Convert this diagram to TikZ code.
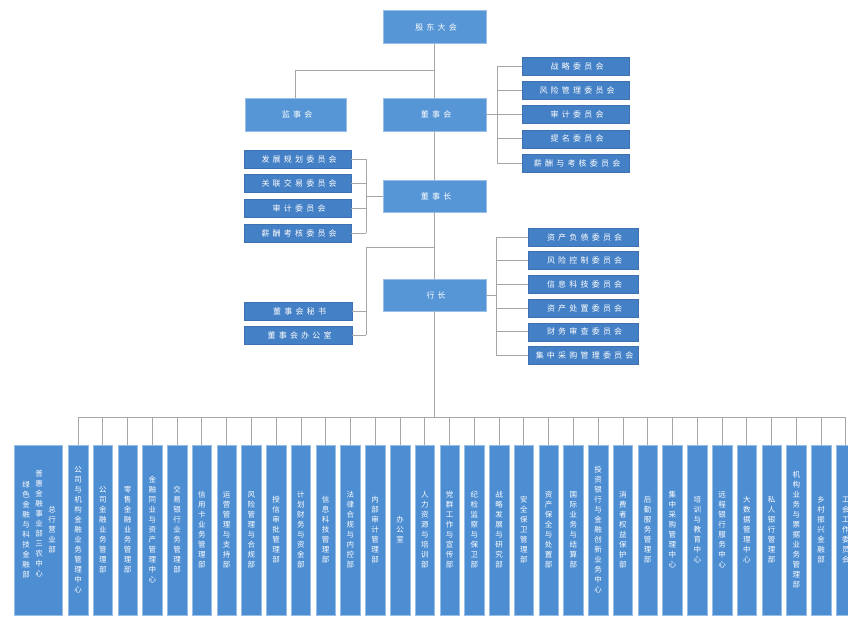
\documentclass[tikz,border=0pt]{standalone}
\usepackage{fontspec}
\newfontfamily\cjk{Noto Sans CJK SC}
\newfontfamily\cjkls{Noto Sans CJK SC}[LetterSpace=40]
\definecolor{boxblue}{RGB}{77,141,210}
\definecolor{bigblue}{RGB}{86,150,214}
\definecolor{smallblue}{RGB}{68,128,198}
\definecolor{boxedge}{RGB}{150,190,230}
\definecolor{smalledge}{RGB}{62,112,178}
\definecolor{linegray}{RGB}{166,166,166}
\makeatletter
\def\vstack#1{\vstack@start#1\relax}
\def\vstack@start#1{#1\vstack@aux}
\def\vstack@aux#1{\ifx#1\relax\expandafter\@gobble\else\expandafter\@firstofone\fi{\\#1\vstack@aux}}
\makeatother
\tikzset{
  hbox/.style={draw=boxedge, line width=0.5pt, fill=boxblue, text=white, inner sep=0pt,
    font=\cjkls\fontsize{8}{10}\selectfont, execute at end node={\kern-3.2pt}},
  bigbox/.style={hbox, fill=bigblue, minimum width=103pt, minimum height=33pt},
  smallbox/.style={hbox, fill=smallblue, draw=smalledge, minimum height=18pt},
  vbox/.style={draw=boxedge, line width=0.5pt, fill=boxblue, text=white, inner sep=0pt,
    minimum width=19.5pt, minimum height=170pt, align=center, font=\cjk\fontsize{7.5}{10}\selectfont},
  vtext/.style={text=white, inner sep=0pt, align=center, font=\cjk\fontsize{7.5}{10}\selectfont},
  conn/.style={draw=linegray, line width=0.8pt},
}
\begin{document}
\begin{tikzpicture}[x=1pt,y=-1pt]
\fill[white] (0,0) rectangle (848,618);
\useasboundingbox (0,0) rectangle (848,618);

% main column
\node[bigbox] (gd) at (434.5,27) {股东大会};
\node[bigbox, minimum width=101pt] (js) at (295.5,114.5) {监事会};
\node[bigbox] (ds) at (434.5,114.5) {董事会};
\node[bigbox, minimum height=32pt] (dz) at (434.5,196) {董事长};
\node[bigbox, minimum height=32pt] (hz) at (434.5,295) {行长};

\coordinate (t1) at (434.5,70);
\coordinate (t2) at (434.5,247);
\coordinate (bus) at (434.5,417);

\draw[conn] (gd.south) -- (ds.north);
\draw[conn] (ds.south) -- (dz.north);
\draw[conn] (dz.south) -- (hz.north);
\draw[conn] (hz.south) -- (bus);
\draw[conn] (t1) -| (js.north);

% board committees (right)
\foreach \t [count=\i from 0] in {战略委员会,风险管理委员会,审计委员会,提名委员会,薪酬与考核委员会}
  \node[smallbox, minimum width=107pt] (dc\i) at (575.5,{66+24.25*\i}) {\t};
\coordinate (dbr) at (497,114.5);
\draw[conn] (ds.east) -- (dbr);
\draw[conn] (dc0.west -| dbr) -- (dc4.west -| dbr);
\foreach \i in {0,...,4} \draw[conn] (dc\i.west) -- (dc\i.west -| dbr);

% committees (left of third box)
\foreach \t [count=\i from 0] in {发展规划委员会,关联交易委员会,审计委员会,薪酬考核委员会}
  \node[smallbox, minimum width=107pt] (lc\i) at (297.5,{159+24.67*\i}) {\t};
\coordinate (lbr) at (366,196);
\draw[conn] (dz.west) -- (lbr);
\draw[conn] (lc0.east -| lbr) -- (lc3.east -| lbr);
\foreach \i in {0,...,3} \draw[conn] (lc\i.east) -- (lc\i.east -| lbr);

% secretary boxes
\node[smallbox, minimum width=108pt] (sb0) at (298,311.5) {董事会秘书};
\node[smallbox, minimum width=108pt] (sb1) at (298,335) {董事会办公室};
\coordinate (sbr) at (366,335);
\draw[conn] (t2) -| (sbr);
\draw[conn] (sb0.east) -- (sb0.east -| sbr);
\draw[conn] (sb1.east) -- (sbr);

% management committees (right)
\foreach \t [count=\i from 0] in {资产负债委员会,风险控制委员会,信息科技委员会,资产处置委员会,财务审查委员会,集中采购管理委员会}
  \node[smallbox, minimum width=110pt] (mc\i) at (583,{237+23.7*\i}) {\t};
\coordinate (mbr) at (496,295);
\draw[conn] (hz.east) -- (mbr);
\draw[conn] (mc0.west -| mbr) -- (mc5.west -| mbr);
\foreach \i in {0,...,5} \draw[conn] (mc\i.west) -- (mc\i.west -| mbr);

% wide box
\node[vbox, minimum width=48pt] (wb) at (38,530) {};
\node[vtext] (wb1) at (52,530) {\vstack{总行营业部}};
\node[vtext] (wb2) at (39,524) {\vstack{普惠金融事业部三农中心}};
\node[vtext] (wb3) at (26,530) {\vstack{绿色金融与科技金融部}};

% departments
\foreach \t [count=\k from 0] in {公司与机构金融业务管理中心,公司金融业务管理部,零售金融业务管理部,金融同业与资产管理中心,交易银行业务管理部,信用卡业务管理部,运营管理与支持部,风险管理与合规部,授信审批管理部,计划财务与资金部,信息科技管理部,法律合规与内控部,内部审计管理部,办公室,人力资源与培训部,党群工作与宣传部,纪检监察与保卫部,战略发展与研究部,安全保卫管理部,资产保全与处置部,国际业务与结算部,投资银行与金融创新业务中心,消费者权益保护部,后勤服务管理部,集中采购管理中心,培训与教育中心,远程银行服务中心,大数据管理中心,私人银行管理部,机构业务与票据业务管理部,乡村振兴金融部,工会工作委员会}
{
  \node[vbox] (b\k) at ({78+24.77*\k},530) {\expandafter\vstack\expandafter{\t}};
  \draw[conn] (b\k.north) -- (b\k.north |- bus);
}
\draw[conn] (b0.north |- bus) -- (b31.north |- bus);
\end{tikzpicture}
\end{document}
